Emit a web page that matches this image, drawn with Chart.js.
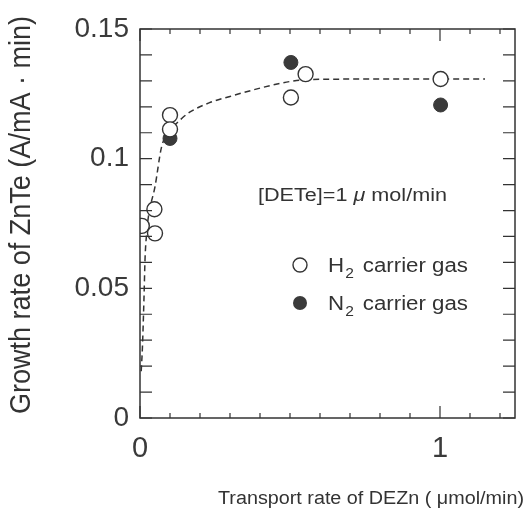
<!DOCTYPE html>
<html><head><meta charset="utf-8">
<script src="https://cdn.jsdelivr.net/npm/chart.js@4/dist/chart.umd.min.js"></script>
<style>html,body{margin:0;padding:0;background:#fff}#c{display:block}</style>
</head><body>
<canvas id="c" width="530" height="509"></canvas>
<script>
const h2Points = [[0.006,0.0741],[0.048,0.0805],[0.05,0.0712],[0.1,0.1168],[0.1,0.1113],[0.503,0.1236],[0.552,0.1326],[1.002,0.1307]];
const n2Points = [[0.1,0.1078],[0.503,0.1371],[1.002,0.1207]];
const fitCurve = [[0.004,0.018],[0.008,0.027],[0.013,0.045],[0.017,0.062],[0.022,0.071],[0.028,0.0776],[0.05,0.0892],[0.072,0.1046],[0.1,0.1105],[0.139,0.1155],[0.167,0.118],[0.23,0.1215],[0.3,0.124],[0.4,0.1272],[0.461,0.1289],[0.522,0.1301],[0.6,0.1306],[0.8,0.1307],[1.0,0.1307],[1.15,0.1307]];
const xTickLabels = [0, 1];
const yTickLabels = [0, 0.05, 0.1, 0.15];
const xMinorStep = 0.1, yMinorStep = 0.01;
const X_MIN = 0, X_MAX = 1.25, Y_MIN = 0, Y_MAX = 0.15;

const INK = '#333';
const FONT = '"Liberation Sans", Arial, sans-serif';
const toXY = a => a.map(p => ({x:p[0], y:p[1]}));

function fitRuns(ctx, runs, x, y, width){
  let total = 0;
  runs.forEach(r => { ctx.font = r[1]; total += ctx.measureText(r[0]).width + (r[3]||0); });
  const sx = width / total;
  ctx.save();
  ctx.translate(x, y);
  ctx.scale(sx, 1);
  let cx = 0;
  runs.forEach(r => { ctx.font = r[1]; ctx.fillText(r[0], cx, r[2]||0); cx += ctx.measureText(r[0]).width + (r[3]||0); });
  ctx.restore();
}

const deco = {
  id:'deco',
  afterDatasetsDraw(chart){
    const {ctx, chartArea:a, scales:{x, y}} = chart;
    ctx.save();
    ctx.strokeStyle = INK; ctx.lineWidth = 1.5;
    ctx.strokeRect(a.left, a.top, a.right-a.left, a.bottom-a.top);
    ctx.lineWidth = 1.2;
    for (let i=0; X_MIN + i*xMinorStep <= X_MAX + 1e-9; i++){
      const v = X_MIN + i*xMinorStep;
      const px = x.getPixelForValue(v);
      const major = Math.abs(v - Math.round(v)) < 1e-9;
      const L = major ? 12 : 5;
      ctx.beginPath();
      ctx.moveTo(px, a.bottom); ctx.lineTo(px, a.bottom - L);
      ctx.moveTo(px, a.top); ctx.lineTo(px, a.top + L);
      ctx.stroke();
    }
    for (let i=0; Y_MIN + i*yMinorStep <= Y_MAX + 1e-9; i++){
      const v = Y_MIN + i*yMinorStep;
      const py = y.getPixelForValue(v);
      const L = 12;
      ctx.beginPath();
      ctx.moveTo(a.left, py); ctx.lineTo(a.left + L, py);
      ctx.moveTo(a.right, py); ctx.lineTo(a.right - L, py);
      ctx.stroke();
    }
    ctx.fillStyle = INK;
    ctx.textBaseline = 'alphabetic';
    ctx.textAlign = 'left';
    fitRuns(ctx, [['[DETe]=1 ', '18px '+FONT], ['\u03bc', 'italic 18px '+FONT, 0, 5], ['mol/min', '18px '+FONT]], 258, 201, 189);
    const legend = [[265,'H',false],[303,'N',true]];
    legend.forEach(([ly, sym, filled]) => {
      ctx.beginPath(); ctx.arc(300, ly, 7, 0, Math.PI*2);
      ctx.lineWidth = 1.4;
      if (filled){ ctx.fillStyle = '#3a3a3a'; ctx.fill(); }
      else { ctx.fillStyle = '#fff'; ctx.fill(); ctx.strokeStyle = INK; ctx.stroke(); }
      ctx.fillStyle = INK;
      fitRuns(ctx, [[sym, '20px '+FONT, 0, 1], ['2', '14px '+FONT, 6, 8], ['carrier gas', '20px '+FONT]], 328, ly + 7, 140);
    });
    fitRuns(ctx, [['Transport rate of DEZn ( ', '18px '+FONT], ['\u03bcmol/min)', '18px '+FONT]], 218, 504, 306);
    ctx.save();
    ctx.translate(22, 215);
    ctx.rotate(-Math.PI/2);
    ctx.textAlign = 'center';
    ctx.textBaseline = 'middle';
    ctx.font = '26px ' + FONT;
    ctx.scale(1.04, 1.1);
    ctx.fillText('Growth rate of ZnTe (A/mA \u00b7 min)', 0, 0);
    ctx.restore();
    ctx.restore();
  }
};

new Chart(document.getElementById('c'), {
  type:'scatter',
  data:{datasets:[
    {label:'H2 carrier gas', data:toXY(h2Points), pointRadius:7.5, pointHoverRadius:7.5, pointBackgroundColor:'#fff', pointBorderColor:INK, pointBorderWidth:1.4, showLine:false},
    {label:'N2 carrier gas', data:toXY(n2Points), pointRadius:7, pointHoverRadius:7, pointBackgroundColor:'#3a3a3a', pointBorderColor:'#3a3a3a', pointBorderWidth:1, showLine:false},
    {label:'fit', data:toXY(fitCurve), showLine:true, pointRadius:0, borderColor:INK, borderWidth:1.5, borderDash:[6,4], cubicInterpolationMode:'monotone', fill:false}
  ]},
  options:{
    responsive:false, animation:false, devicePixelRatio:1,
    layout:{padding:{left:0, right:15, top:29, bottom:0}},
    plugins:{legend:{display:false}, tooltip:{enabled:false}},
    scales:{
      x:{type:'linear', min:X_MIN, max:X_MAX,
        afterBuildTicks: s => { s.ticks = xTickLabels.map(v => ({value:v})); },
        afterFit: s => { s.height = 91; },
        grid:{display:false, drawTicks:false}, border:{display:false},
        ticks:{padding:14, color:'#3a3a3a', font:{family:FONT, size:29}, maxRotation:0, autoSkip:false, callback:v=>String(v)}},
      y:{type:'linear', min:Y_MIN, max:Y_MAX,
        afterBuildTicks: s => { s.ticks = yTickLabels.map(v => ({value:v})); },
        afterFit: s => { s.width = 140; },
        grid:{display:false, drawTicks:false}, border:{display:false},
        ticks:{padding:11, color:'#3a3a3a', font:{family:FONT, size:28}, autoSkip:false, callback:v=>String(v)}}
    }
  },
  plugins:[deco]
});
</script>
</body></html>
